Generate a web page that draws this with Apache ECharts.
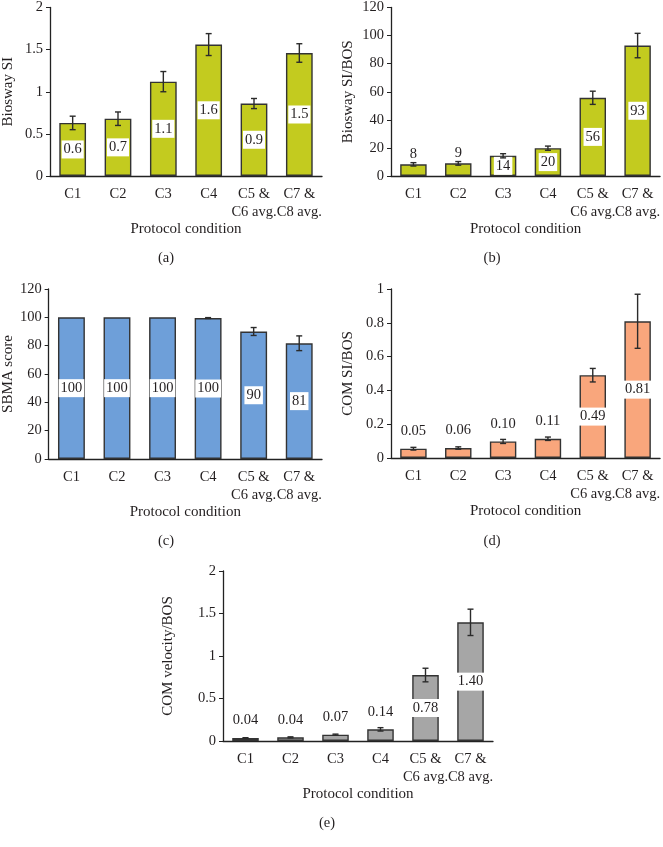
<!DOCTYPE html>
<html>
<head>
<meta charset="utf-8">
<script src="https://cdn.jsdelivr.net/npm/echarts@6/dist/echarts.min.js"></script>
<style>
  html, body { margin: 0; padding: 0; background: #fff; }
  #main { width: 663px; height: 847px; }
</style>
</head>
<body>
<div id="main"></div>
<script>
// categories shared by every panel
var categories = ['C1', 'C2', 'C3', 'C4', 'C5 &\nC6 avg.', 'C7 &\nC8 avg.'];

// (a) Biosway SI
var aValues = [0.63, 0.68, 1.12, 1.56, 0.86, 1.46];
var aErrors = [0.08, 0.08, 0.12, 0.13, 0.06, 0.11];
var aLabels = ['0.6', '0.7', '1.1', '1.6', '0.9', '1.5'];

// (b) Biosway SI/BOS
var bValues = [8.3, 9.0, 14.4, 19.8, 55.7, 92.9];
var bErrors = [1.2, 1.3, 1.5, 1.5, 4.7, 8.7];
var bLabels = ['8', '9', '14', '20', '56', '93'];

// (c) SBMA score
var cValues = [100, 100, 100, 99.5, 90, 81.7];
var cErrors = [0, 0, 0, 0.3, 2.8, 5.2];
var cLabels = ['100', '100', '100', '100', '90', '81'];

// (d) COM SI/BOS
var dValues = [0.055, 0.059, 0.098, 0.114, 0.49, 0.809];
var dErrors = [0.008, 0.007, 0.012, 0.01, 0.04, 0.16];
var dLabels = ['0.05', '0.06', '0.10', '0.11', '0.49', '0.81'];

// (e) COM velocity/BOS
var eValues = [0.035, 0.043, 0.074, 0.137, 0.776, 1.396];
var eErrors = [0.004, 0.006, 0.007, 0.02, 0.08, 0.155];
var eLabels = ['0.04', '0.04', '0.07', '0.14', '0.78', '1.40'];

var FONT = 'Liberation Serif';
var INK = '#231f20';

var panels = [
  { letter: '(a)', name: 'Biosway SI', values: aValues, errors: aErrors, labels: aLabels, color: '#c3cb1f',
    max: 2, interval: 0.5, above: [], aboveGap: 3, nameGap: 34,
    grid: { left: 50, top: 6, width: 272, height: 170 }, letterPos: [166, 258] },
  { letter: '(b)', name: 'Biosway SI/BOS', values: bValues, errors: bErrors, labels: bLabels, color: '#c3cb1f',
    max: 120, interval: 20, above: [0, 1], aboveGap: 3, nameGap: 35,
    grid: { left: 391, top: 6, width: 271, height: 170 }, letterPos: [492, 258] },
  { letter: '(c)', name: 'SBMA score', values: cValues, errors: cErrors, labels: cLabels, color: '#6e9fd9',
    max: 120, interval: 20, above: [], aboveGap: 3, nameGap: 29,
    grid: { left: 45, top: 289, width: 277, height: 170 }, letterPos: [166, 541] },
  { letter: '(d)', name: 'COM SI/BOS', values: dValues, errors: dErrors, labels: dLabels, color: '#f9a67c',
    max: 1, interval: 0.2, above: [0, 1, 2, 3], aboveGap: 10, nameGap: 35,
    grid: { left: 391, top: 289, width: 271, height: 169 }, letterPos: [492, 541] },
  { letter: '(e)', name: 'COM velocity/BOS', values: eValues, errors: eErrors, labels: eLabels, color: '#a6a6a6',
    max: 2, interval: 0.5, above: [0, 1, 2, 3], aboveGap: 10, nameGap: 47,
    grid: { left: 223, top: 571, width: 270, height: 170 }, letterPos: [327, 823] }
];

var grids = [], xAxes = [], yAxes = [], series = [], graphics = [];

panels.forEach(function (p, k) {
  grids.push(p.grid);

  xAxes.push({
    type: 'category',
    gridIndex: k,
    data: categories,
    name: 'Protocol condition',
    nameLocation: 'middle',
    nameGap: 45,
    nameTextStyle: { fontFamily: FONT, fontSize: 15, color: INK },
    axisLine: { lineStyle: { color: '#222', width: 1.3 } },
    axisTick: { alignWithLabel: true, length: 4, lineStyle: { color: '#222' } },
    axisLabel: { fontFamily: FONT, fontSize: 14.5, color: INK, margin: 9, lineHeight: 18, interval: 0 }
  });

  yAxes.push({
    type: 'value',
    gridIndex: k,
    min: 0,
    max: p.max,
    interval: p.interval,
    name: p.name,
    nameLocation: 'middle',
    nameGap: p.nameGap,
    nameTextStyle: { fontFamily: FONT, fontSize: 15, color: INK },
    splitLine: { show: false },
    axisLine: { show: true, lineStyle: { color: '#222', width: 1.3 } },
    axisTick: { show: true, length: 4, lineStyle: { color: '#222' } },
    axisLabel: {
      fontFamily: FONT, fontSize: 14.5, color: INK, margin: 7,
      formatter: function (v) { return String(+v.toFixed(2)); }
    }
  });

  var barData = p.values.map(function (v, i) {
    var top = p.above.indexOf(i) >= 0;
    return {
      value: v,
      label: top ? {
        position: 'top',
        distance: p.aboveGap,
        backgroundColor: 'transparent',
        padding: 0
      } : {}
    };
  });

  series.push({
    type: 'bar',
    xAxisIndex: k,
    yAxisIndex: k,
    barCategoryGap: '41%',
    itemStyle: { color: p.color, borderColor: '#333', borderWidth: 1.4 },
    label: {
      show: true,
      position: 'inside',
      fontFamily: FONT,
      fontSize: 14.5,
      color: INK,
      backgroundColor: '#fff',
      padding: [2, 2, 1, 2],
      formatter: function (prm) { return p.labels[prm.dataIndex]; }
    },
    data: barData,
    z: 2
  });

  series.push({
    type: 'custom',
    xAxisIndex: k,
    yAxisIndex: k,
    z: 5,
    silent: true,
    encode: { x: 0, y: 1 },
    data: p.values.map(function (v, i) { return [i, v, p.errors[i]]; }),
    renderItem: function (params, api) {
      var i = api.value(0), v = api.value(1), e = api.value(2);
      if (!e) return null;
      var hi = api.coord([i, v + e]);
      var lo = api.coord([i, v - e]);
      var w = 3;
      var st = { stroke: '#2b2b2b', lineWidth: 1.4 };
      return {
        type: 'group',
        children: [
          { type: 'line', shape: { x1: hi[0], y1: hi[1], x2: lo[0], y2: lo[1] }, style: st },
          { type: 'line', shape: { x1: hi[0] - w, y1: hi[1], x2: hi[0] + w, y2: hi[1] }, style: st },
          { type: 'line', shape: { x1: lo[0] - w, y1: lo[1], x2: lo[0] + w, y2: lo[1] }, style: st }
        ]
      };
    }
  });

  graphics.push({
    type: 'text',
    x: p.letterPos[0],
    y: p.letterPos[1],
    style: {
      text: p.letter,
      fontFamily: FONT,
      fontSize: 14.5,
      fill: INK,
      align: 'center',
      verticalAlign: 'middle'
    }
  });
});

var chart = echarts.init(document.getElementById('main'), null, { renderer: 'canvas' });
chart.setOption({
  backgroundColor: '#fff',
  animation: false,
  grid: grids,
  xAxis: xAxes,
  yAxis: yAxes,
  series: series,
  graphic: graphics
});
</script>
</body>
</html>
